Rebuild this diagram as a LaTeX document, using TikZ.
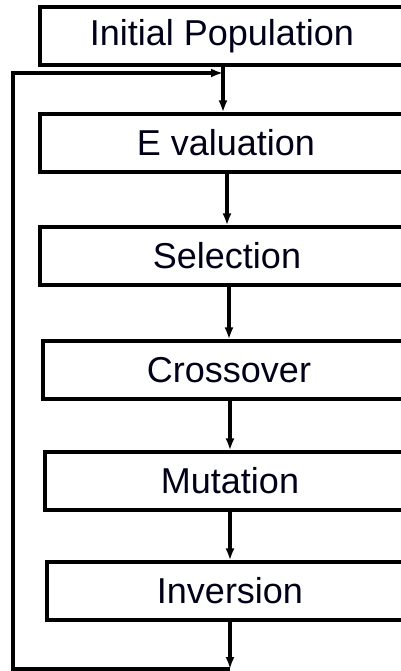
\documentclass[tikz,border=0pt]{standalone}
\usepackage{fontspec}
\setmainfont{Liberation Sans}
\usetikzlibrary{arrows.meta}
\begin{document}
\begin{tikzpicture}[x=0.5pt,y=-0.5pt,
  stagebox/.style={draw=black,line width=1.6pt,minimum height=29pt,inner sep=0pt,font=\fontsize{18pt}{20pt}\selectfont,text=black!90!blue},
  flow/.style={line width=1.6pt,-{Latex[length=6pt,width=4.5pt]}}]
\useasboundingbox (0,0) rectangle (401,671);
\clip (0,0) rectangle (401,671);
\fill[white] (0,0) rectangle (401,671);
\node[stagebox,minimum width=182pt] (init) at (222,36) {Initial Population};
\node[stagebox,minimum width=186pt] (eval) at (226,143) {E valuation};
\node[stagebox,minimum width=187pt] (sel) at (227,256) {Selection};
\node[stagebox,minimum width=186pt] (cross) at (229,370) {Crossover};
\node[stagebox,minimum width=185pt] (mut) at (230,481) {Mutation};
\node[stagebox,minimum width=183pt] (inv) at (230,591) {Inversion};
\coordinate (top) at (223,73);
\coordinate (bot) at (230,669);
\coordinate (bl) at (13,669);
\coordinate (tl) at (13,73);
\draw[flow] (init.south -| top) -- (top |- eval.north);
\draw[flow] (eval.south -| sel.north) -- (sel.north);
\draw[flow] (sel.south -| cross.north) -- (cross.north);
\draw[flow] (cross.south -| mut.north) -- (mut.north);
\draw[flow] (mut.south -| inv.north) -- (inv.north);
\draw[flow] (inv.south) -- (bot);
\draw[flow] (bot) -- (bl) -- (tl) -- (top);
\end{tikzpicture}
\end{document}
